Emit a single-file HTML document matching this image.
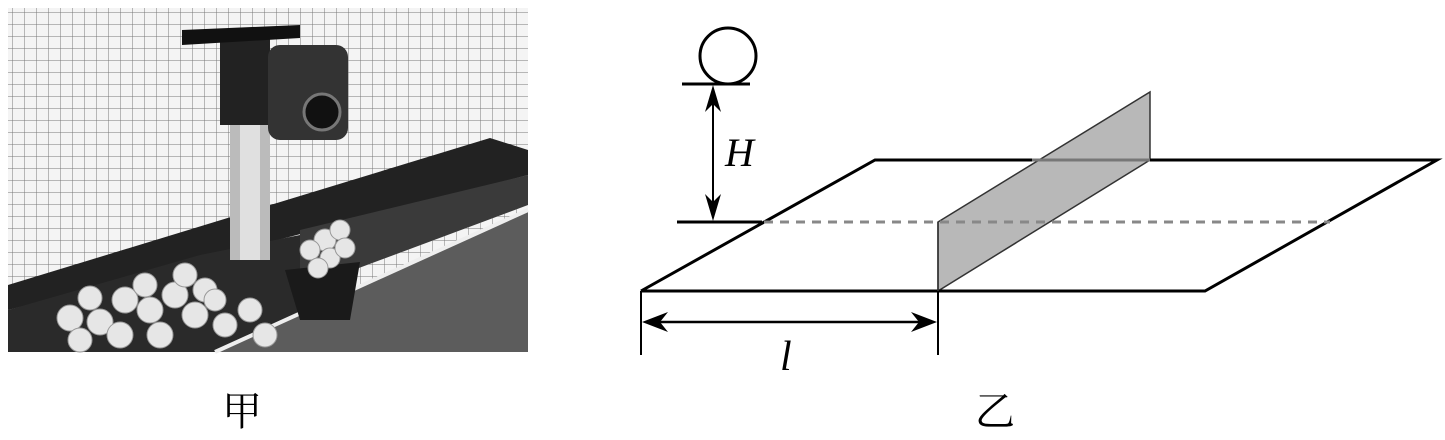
<!DOCTYPE html>
<html><head><meta charset="utf-8"><style>
html,body{margin:0;padding:0;background:#fff;}
</style></head><body>
<svg width="1445" height="435" viewBox="0 0 1445 435" xmlns="http://www.w3.org/2000/svg">
<defs>
<pattern id="net" width="12" height="12" patternUnits="userSpaceOnUse">
<rect width="12" height="12" fill="#f4f4f4"/>
<path d="M0 0H12M0 0V12" stroke="#777" stroke-width="1"/>
</pattern>
</defs>
<!-- photo approximation -->
<rect x="8" y="8" width="520" height="344" fill="url(#net)"/>
<polygon points="8,285 490,138 528,150 528,175 8,310" fill="#222"/>
<polygon points="8,310 200,255 300,235 300,352 8,352" fill="#2a2a2a"/>
<polygon points="300,230 528,175 528,205 300,290" fill="#3a3a3a"/>
<polygon points="215,352 528,212 528,352" fill="#5c5c5c"/>
<line x1="215" y1="352" x2="528" y2="210" stroke="#eee" stroke-width="4"/>
<rect x="230" y="125" width="40" height="135" fill="#bbb"/>
<rect x="240" y="120" width="20" height="140" fill="#e0e0e0"/>
<rect x="220" y="35" width="50" height="90" fill="#222"/>
<rect x="268" y="45" width="80" height="95" rx="12" fill="#333"/>
<circle cx="322" cy="112" r="18" fill="#111" stroke="#777" stroke-width="3"/>
<polygon points="182,30 300,25 300,38 182,45" fill="#111"/>
<polygon points="285,270 360,262 350,320 300,320" fill="#1a1a1a"/>
<g fill="#e6e6e6" stroke="#999" stroke-width="1">
<circle cx="70" cy="318" r="13"/><circle cx="100" cy="322" r="13"/><circle cx="125" cy="300" r="13"/><circle cx="150" cy="310" r="13"/><circle cx="90" cy="298" r="12"/><circle cx="175" cy="295" r="13"/><circle cx="195" cy="315" r="13"/><circle cx="160" cy="335" r="13"/><circle cx="120" cy="335" r="13"/><circle cx="80" cy="340" r="12"/><circle cx="205" cy="290" r="12"/><circle cx="145" cy="285" r="12"/><circle cx="225" cy="325" r="12"/><circle cx="185" cy="275" r="12"/><circle cx="215" cy="300" r="11"/><circle cx="250" cy="310" r="12"/><circle cx="265" cy="335" r="12"/>
<circle cx="325" cy="240" r="11"/><circle cx="340" cy="230" r="10"/><circle cx="310" cy="250" r="10"/><circle cx="330" cy="258" r="10"/><circle cx="345" cy="248" r="10"/><circle cx="318" cy="268" r="10"/>
</g>
<!-- diagram -->
<polygon points="938,222 1150,92 1150,160 938,291" fill="#b8b8b8" stroke="#333" stroke-width="1.5"/>
<line x1="1032" y1="160" x2="1150" y2="160" stroke="#777" stroke-width="3"/>
<g stroke="#000" stroke-width="3" fill="none" stroke-linejoin="miter">
<polyline points="641,291 875,160 1032,160"/>
<polyline points="1150,160 1437,160 1205,291 641,291"/>
<line x1="677" y1="222" x2="762" y2="222"/>
<line x1="682" y1="84" x2="750" y2="84"/>
<line x1="641" y1="291" x2="641" y2="355" stroke-width="2"/>
<line x1="938" y1="291" x2="938" y2="355" stroke-width="2"/>
<line x1="713" y1="92" x2="713" y2="214" stroke-width="2"/>
<line x1="650" y1="322" x2="930" y2="322" stroke-width="2.5"/>
</g>
<line x1="938" y1="222" x2="938" y2="291" stroke="#333" stroke-width="1.5"/>
<line x1="764" y1="222" x2="1330" y2="222" stroke="#888" stroke-width="3" stroke-dasharray="9,7"/>
<ellipse cx="728" cy="56" rx="28" ry="28" fill="none" stroke="#000" stroke-width="3"/>
<g fill="#000">
<polygon points="713,85 705,112 713,104 721,112"/>
<polygon points="713,221 705,194 713,202 721,194"/>
<polygon points="642,322 668,312 660,322 668,332"/>
<polygon points="937,322 911,312 919,322 911,332"/>
</g>
<text x="725" y="166" font-family="Liberation Serif, serif" font-style="italic" font-size="40">H</text>
<text x="780" y="370" font-family="Liberation Serif, serif" font-style="italic" font-size="42">l</text>
<text x="222" y="425" font-family="Liberation Serif, 'Noto Serif CJK SC', serif" font-size="40">甲</text>
<text x="975" y="425" font-family="Liberation Serif, 'Noto Serif CJK SC', serif" font-size="40">乙</text>
</svg>
</body></html>
